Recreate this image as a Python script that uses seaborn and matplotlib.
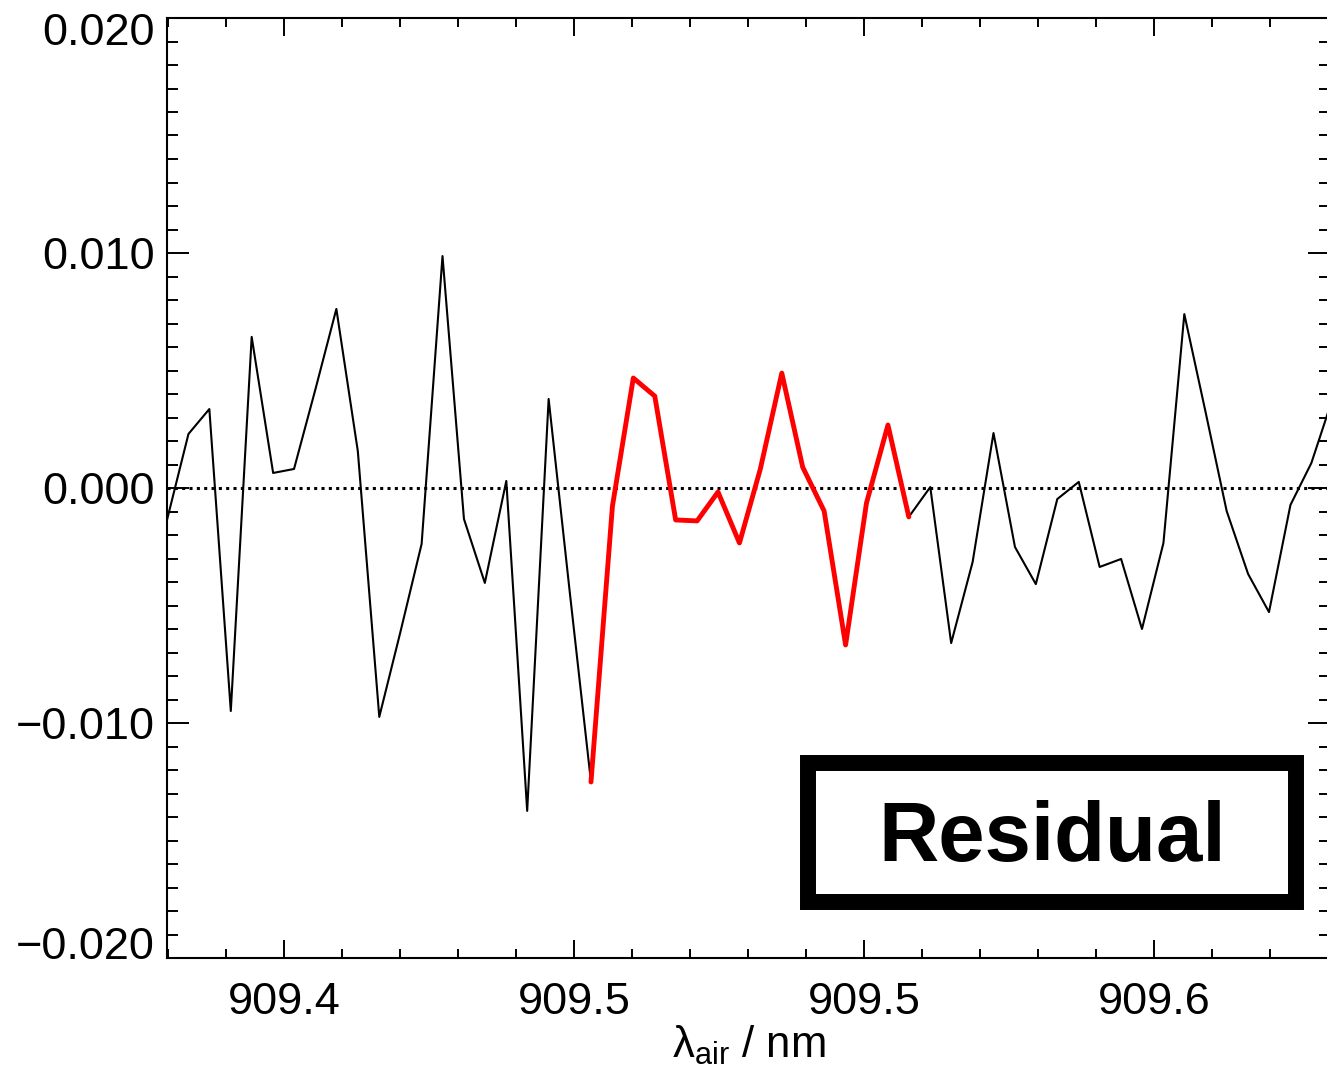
import matplotlib
matplotlib.use("Agg")
import matplotlib.pyplot as plt
import matplotlib.transforms as mtransforms
from matplotlib.ticker import MultipleLocator, FixedLocator, FixedFormatter
from matplotlib.patches import Rectangle
import seaborn as sns
import pandas as pd

# ---- data ----
wavelength = [
    909.3798, 909.3835, 909.3871, 909.3908, 909.3944, 909.3981, 909.4017, 909.4054,
    909.4090, 909.4127, 909.4164, 909.4200, 909.4237, 909.4273, 909.4310, 909.4346,
    909.4383, 909.4419, 909.4456, 909.4492, 909.4529, 909.4566, 909.4602, 909.4639,
    909.4675, 909.4712, 909.4748, 909.4785, 909.4821, 909.4858, 909.4894, 909.4931,
    909.4968, 909.5004, 909.5041, 909.5077, 909.5114, 909.5150, 909.5187, 909.5223,
    909.5260, 909.5296, 909.5333, 909.5370, 909.5406, 909.5443, 909.5479, 909.5516,
    909.5552, 909.5589, 909.5625, 909.5662, 909.5698, 909.5735, 909.5771, 909.5808,
]
residual = [
    -0.00136, 0.00230, 0.00336, -0.00949, 0.00643, 0.00064, 0.00081, 0.00421,
    0.00762, 0.00157, -0.00974, -0.00617, -0.00238, 0.00987, -0.00132, -0.00404,
    0.00030, -0.01374, 0.00379, -0.00434, -0.01251, -0.00077, 0.00468, 0.00391,
    -0.00136, -0.00140, -0.00017, -0.00234, 0.00081, 0.00489, 0.00089, -0.00098,
    -0.00668, -0.00064, 0.00268, -0.00123, 0.00004, -0.00660, -0.00315, 0.00234,
    -0.00251, -0.00409, -0.00047, 0.00026, -0.00336, -0.00302, -0.00600, -0.00234,
    0.00740, 0.00319, -0.00098, -0.00366, -0.00528, -0.00072, 0.00106, 0.00383,
]
fit_start, fit_end = 20, 35   # indices of the highlighted (red) fit window

x_ticks = [909.40, 909.45, 909.50, 909.55]
x_tick_labels = ["909.4", "909.5", "909.5", "909.6"]
y_ticks = [-0.020, -0.010, 0.000, 0.010, 0.020]
y_tick_labels = ["\u22120.020", "\u22120.010", "0.000", "0.010", "0.020"]
x_label = "\u03bb$_{\\mathrm{air}}$ / nm"
box_text = "Residual"

# ---- style ----
sns.set_theme(style="ticks")
plt.rcParams["font.family"] = ["Liberation Sans", "DejaVu Sans"]
plt.rcParams["mathtext.fontset"] = "custom"
plt.rcParams["mathtext.rm"] = "Liberation Sans"
plt.rcParams["mathtext.it"] = "Liberation Sans:italic"
plt.rcParams["mathtext.bf"] = "Liberation Sans:bold"

W, H = 1327, 1075
fig = plt.figure(figsize=(W / 100, H / 100), dpi=100)
ax_l, ax_r, ax_t, ax_b = 167, 1330, 18, 958
ax = fig.add_axes([ax_l / W, (H - ax_b) / H, (ax_r - ax_l) / W, (ax_b - ax_t) / H])

df = pd.DataFrame({"wavelength": wavelength, "residual": residual})
df_fit = df.iloc[fit_start:fit_end + 1]

ax.axhline(0.0, color="black", lw=2.2, linestyle=(0, (1.0, 1.4)), zorder=1)
sns.lineplot(data=df, x="wavelength", y="residual", color="black", lw=1.5,
             ax=ax, sort=False, zorder=2)
sns.lineplot(data=df_fit, x="wavelength", y="residual", color="#ff0000", lw=3.5,
             ax=ax, sort=False, zorder=3)

ax.set_xlim(909.3798, 909.3798 + (ax_r - ax_l) / 5800.0)
ax.set_ylim(-0.020, 0.020)

ax.xaxis.set_major_locator(FixedLocator(x_ticks))
ax.xaxis.set_major_formatter(FixedFormatter(x_tick_labels))
ax.xaxis.set_minor_locator(MultipleLocator(0.01))
ax.yaxis.set_major_locator(FixedLocator(y_ticks))
ax.yaxis.set_major_formatter(FixedFormatter(y_tick_labels))
ax.yaxis.set_minor_locator(MultipleLocator(0.001))

ax.tick_params(axis="both", which="both", direction="in", top=True, right=True,
               color="black", width=1.4, labelsize=32.5, labelcolor="black")
ax.tick_params(axis="x", which="major", length=13, pad=17)
ax.tick_params(axis="x", which="minor", length=6.5)
ax.tick_params(axis="y", which="major", length=16, pad=9)
ax.tick_params(axis="y", which="minor", length=8)

for s in ax.spines.values():
    s.set_linewidth(1.5)
    s.set_color("black")

ax.set_xlabel(x_label, fontsize=31.5, labelpad=1, color="black")
ax.set_ylabel("")
ax.grid(False)

# end labels of the y axis sit inside the axis range (as in the reference)
fig.canvas.draw()
ylabels = ax.yaxis.get_majorticklabels()
ylabels[0].set_transform(ylabels[0].get_transform() +
                         mtransforms.ScaledTranslation(0, 15 / 100, fig.dpi_scale_trans))
ylabels[-1].set_transform(ylabels[-1].get_transform() +
                          mtransforms.ScaledTranslation(0, -11 / 100, fig.dpi_scale_trans))

# Residual box
bx0 = (808 - ax_l) / (ax_r - ax_l)
bx1 = (1296 - ax_l) / (ax_r - ax_l)
by0 = (ax_b - 902) / (ax_b - ax_t)
by1 = (ax_b - 763) / (ax_b - ax_t)
rect = Rectangle((bx0, by0), bx1 - bx0, by1 - by0, transform=ax.transAxes,
                 fill=True, facecolor="white", edgecolor="black", lw=11.5,
                 joinstyle="miter", zorder=5)
ax.add_patch(rect)
ax.text((bx0 + bx1) / 2, (by0 + by1) / 2 - 6 / (ax_b - ax_t), box_text,
        transform=ax.transAxes, ha="center", va="center", fontsize=60,
        fontweight="bold", color="black", zorder=6)

fig.savefig("out.png", dpi=100)
